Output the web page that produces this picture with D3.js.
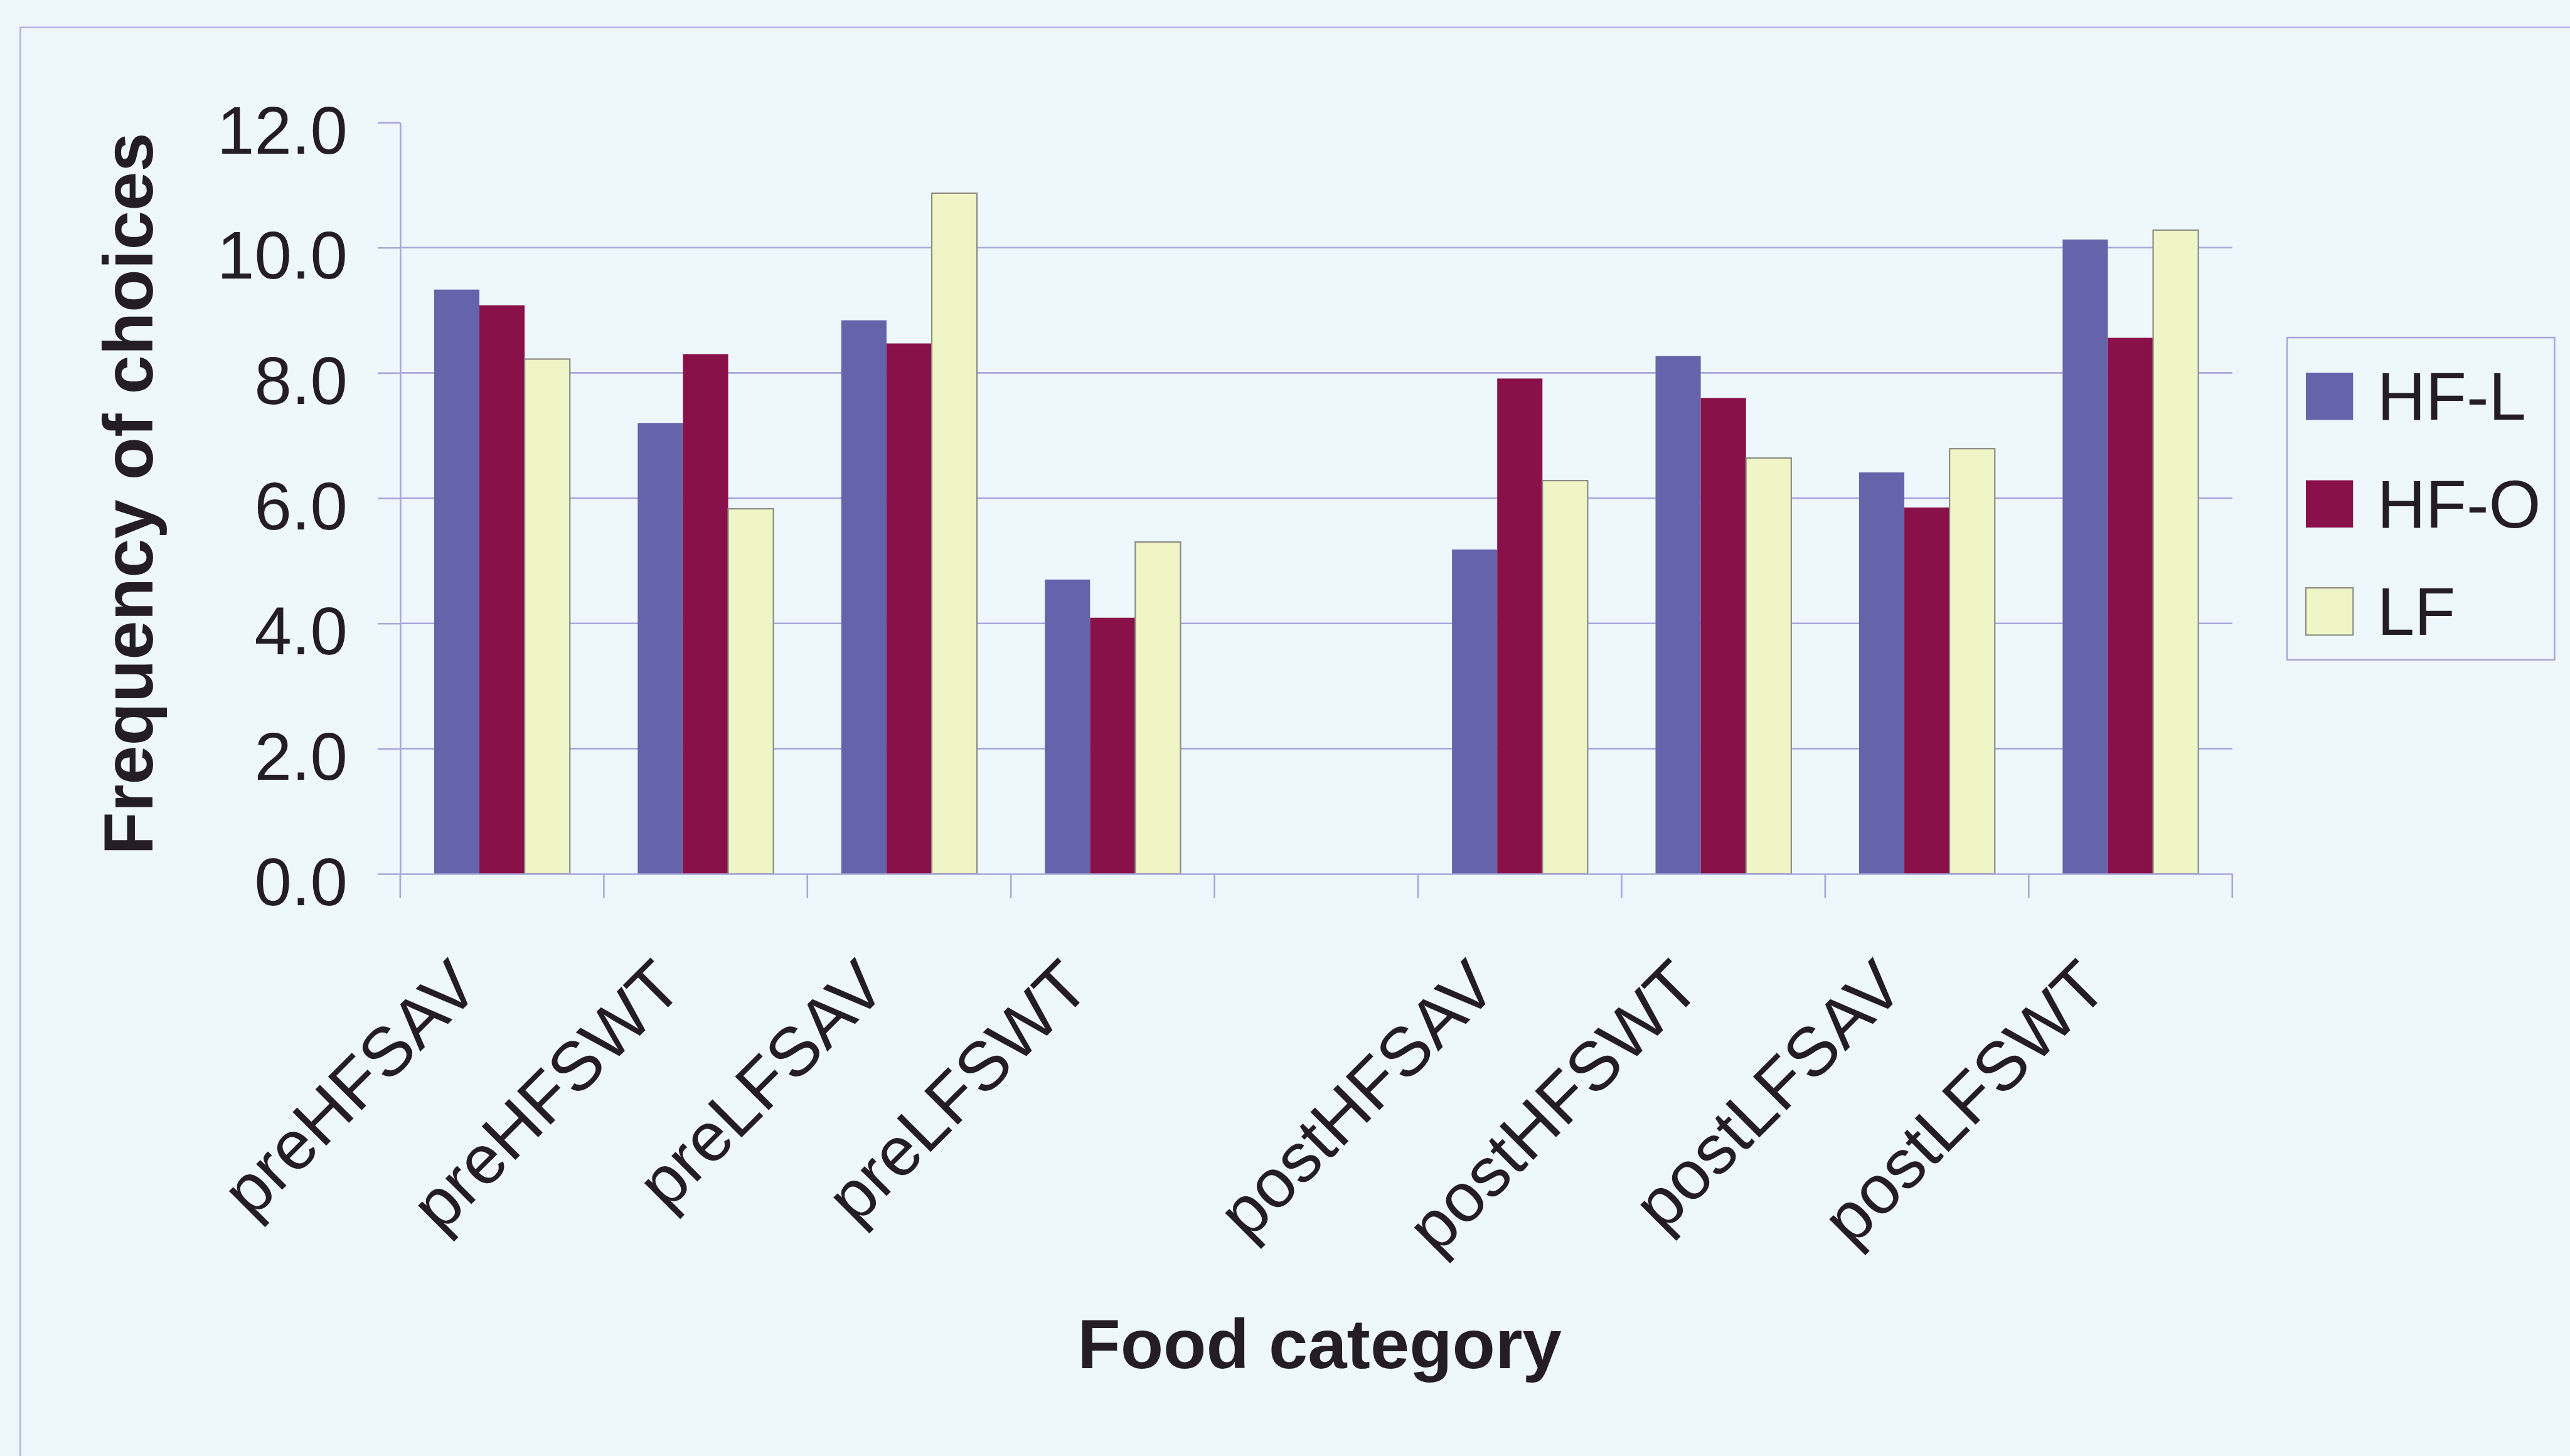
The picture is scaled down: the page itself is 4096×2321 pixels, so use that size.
<!DOCTYPE html>
<html>
<head>
<meta charset="utf-8">
<script src="https://cdn.jsdelivr.net/npm/d3@7/dist/d3.min.js"></script>
<style>
  html, body { margin: 0; padding: 0; background: #eef7fb; overflow: hidden; }
  svg { display: block; }
</style>
</head>
<body>
<svg id="chart"></svg>
<script>
// Food categories (the blank slot separates the pre and post groups)
const categories = ["preHFSAV", "preHFSWT", "preLFSAV", "preLFSWT", "",
                    "postHFSAV", "postHFSWT", "postLFSAV", "postLFSWT"];
const seriesNames = ["HF-L", "HF-O", "LF"];
const hfL = [9.33, 7.20, 8.84, 4.70, null, 5.18, 8.27, 6.41, 10.13];
const hfO = [9.08, 8.30, 8.47, 4.09, null, 7.91, 7.60, 5.85, 8.56];
const lf  = [8.22, 5.83, 10.87, 5.30, null, 6.28, 6.64, 6.79, 10.28];
const yTicks = [0, 2, 4, 6, 8, 10, 12];
const yTitle = "Frequency of choices";
const xTitle = "Food category";

const seriesValues = [hfL, hfO, lf];
const seriesColors = ["#6563aa", "#8a1049", "#eff5c6"];
const seriesStroke = ["none", "none", "#8c8c84"];

const W = 4096, H = 2321;
const S = 0.875;                       // layout units -> pixels
const FONT = "'Liberation Sans', Arial, Helvetica, sans-serif";
const INK = "#241c27";
const LINE = "#a9a8dc";

const svg = d3.select("#chart").attr("width", W).attr("height", H);
svg.append("rect").attr("width", W).attr("height", H).attr("fill", "#eef7fb");

// chart-area border (runs off the right and bottom edges)
svg.append("path")
  .attr("d", `M${37 * S},${H + 10}V${50 * S}H${W + 10}`)
  .attr("fill", "none").attr("stroke", "#b3b2e4").attr("stroke-width", 3 * S);

const plot = { left: 729 * S, right: 4066 * S, top: 223 * S, bottom: 1592 * S };

const x = d3.scaleBand()
  .domain(d3.range(categories.length))
  .range([plot.left, plot.right])
  .paddingInner(0).paddingOuter(0);
const barW = x.bandwidth() / 4.5;      // gap width 150%
const xs = d3.scaleBand()
  .domain(seriesNames)
  .range([0.75 * barW, 3.75 * barW]);
const y = d3.scaleLinear().domain([0, 12]).range([plot.bottom, plot.top]);

// horizontal gridlines
svg.append("g").selectAll("line")
  .data(yTicks.filter(t => t > 0 && t < 12))
  .join("line")
  .attr("x1", plot.left).attr("x2", plot.right)
  .attr("y1", d => y(d)).attr("y2", d => y(d))
  .attr("stroke", LINE).attr("stroke-width", 3 * S);

// bars
const rows = [];
categories.forEach((c, i) => {
  seriesNames.forEach((s, j) => {
    const v = seriesValues[j][i];
    if (v != null) rows.push({ i, s, j, v });
  });
});
svg.append("g").selectAll("rect")
  .data(rows)
  .join("rect")
  .attr("x", d => x(d.i) + xs(d.s))
  .attr("y", d => y(d.v))
  .attr("width", xs.bandwidth())
  .attr("height", d => y(0) - y(d.v))
  .attr("fill", d => seriesColors[d.j])
  .attr("stroke", d => seriesStroke[d.j])
  .attr("stroke-width", 2.5 * S);

// y axis
const yAxis = svg.append("g")
  .attr("transform", `translate(${plot.left},0)`)
  .call(d3.axisLeft(y).tickValues(yTicks).tickFormat(d3.format(".1f"))
    .tickSizeInner(41 * S).tickSizeOuter(0).tickPadding(55 * S));
yAxis.select(".domain").attr("stroke", LINE).attr("stroke-width", 3 * S);
yAxis.selectAll(".tick line").attr("stroke", LINE).attr("stroke-width", 3 * S);
yAxis.selectAll(".tick text")
  .attr("fill", INK).attr("font-family", FONT).attr("font-size", 122 * S)
  .attr("dy", "0.46em");

// x axis: category labels at band centres, ticks on category boundaries
const xAxis = svg.append("g")
  .attr("transform", `translate(0,${plot.bottom})`)
  .call(d3.axisBottom(x).tickFormat(i => categories[i])
    .tickSizeInner(0).tickSizeOuter(0).tickPadding(0));
xAxis.select(".domain").attr("stroke", LINE).attr("stroke-width", 3 * S);
xAxis.selectAll(".tick line").remove();
xAxis.selectAll(".tick text")
  .attr("fill", INK).attr("font-family", FONT).attr("font-size", 126 * S)
  .attr("text-anchor", "end")
  .attr("x", 0).attr("y", 0).attr("dy", 0)
  .attr("transform", `translate(${-37 * S},${212 * S}) rotate(-45)`);
const boundaries = d3.range(categories.length).map(i => x(i)).concat([x.range()[1]]);
xAxis.append("g").selectAll("line")
  .data(boundaries)
  .join("line")
  .attr("x1", d => d).attr("x2", d => d)
  .attr("y1", 0).attr("y2", 44 * S)
  .attr("stroke", LINE).attr("stroke-width", 3 * S);

// axis titles
svg.append("text")
  .attr("transform", `translate(${278 * S},${(plot.top + plot.bottom) / 2 - 8 * S}) rotate(-90)`)
  .attr("text-anchor", "middle")
  .attr("font-family", FONT).attr("font-weight", "bold").attr("font-size", 128 * S)
  .attr("fill", INK)
  .text(yTitle);
svg.append("text")
  .attr("x", (plot.left + plot.right) / 2 + 6 * S)
  .attr("y", 2493 * S)
  .attr("text-anchor", "middle")
  .attr("font-family", FONT).attr("font-weight", "bold").attr("font-size", 128 * S)
  .attr("fill", INK)
  .text(xTitle);

// legend
const legend = svg.append("g").attr("transform", `translate(${4166 * S},${615 * S})`);
legend.append("rect")
  .attr("width", 487 * S).attr("height", 587 * S)
  .attr("fill", "none").attr("stroke", "#aaa9d8").attr("stroke-width", 3 * S);
const item = legend.selectAll("g.item")
  .data(seriesNames)
  .join("g").attr("class", "item")
  .attr("transform", (d, j) => `translate(${34 * S},${(64 + j * 196) * S})`);
item.append("rect")
  .attr("width", 86 * S).attr("height", 86 * S)
  .attr("fill", (d, j) => seriesColors[j])
  .attr("stroke", (d, j) => j === 2 ? "#8c8c84" : "none")
  .attr("stroke-width", 2.5 * S);
item.append("text")
  .attr("x", 130 * S).attr("y", 86 * S)
  .attr("font-family", FONT).attr("font-size", 122 * S)
  .attr("fill", INK)
  .text(d => d);
</script>
</body>
</html>
